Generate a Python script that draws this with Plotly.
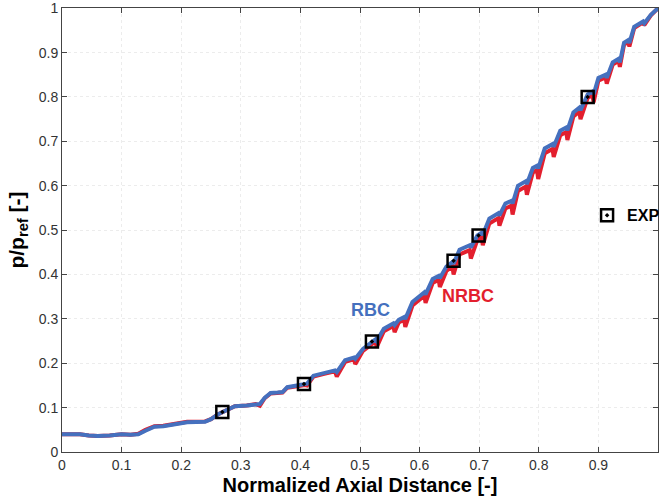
import plotly.graph_objects as go

# ---- data ----
x_axial = [0.000, 0.030, 0.045, 0.060, 0.080, 0.100, 0.115, 0.128, 0.140, 0.155, 0.170, 0.190, 0.210, 0.240,
           0.250, 0.262, 0.275, 0.290, 0.310, 0.325, 0.332, 0.340, 0.350, 0.362, 0.370, 0.378, 0.395, 0.408,
           0.411, 0.422, 0.440, 0.458, 0.461,
           0.475, 0.490, 0.492,
           0.505, 0.526, 0.528,
           0.540, 0.556, 0.558,
           0.565, 0.574, 0.576,
           0.588, 0.608, 0.610,
           0.622, 0.632, 0.634,
           0.645, 0.655, 0.657,
           0.667, 0.684, 0.686,
           0.697, 0.704, 0.706,
           0.717, 0.732, 0.734,
           0.744, 0.754, 0.756,
           0.765, 0.778, 0.780,
           0.790, 0.797, 0.799,
           0.810, 0.823, 0.825,
           0.836, 0.846, 0.848,
           0.858, 0.868, 0.870,
           0.882, 0.890, 0.892,
           0.900, 0.912, 0.914,
           0.924, 0.934, 0.936,
           0.943, 0.950, 0.952,
           0.960, 0.975, 0.977,
           0.988, 1.000]

p_rbc = [0.040, 0.040, 0.037, 0.036, 0.037, 0.040, 0.039, 0.040, 0.048, 0.057, 0.058, 0.062, 0.067, 0.068,
         0.074, 0.085, 0.094, 0.103, 0.105, 0.106, 0.108, 0.122, 0.133, 0.134, 0.135, 0.146, 0.150, 0.153,
         0.154, 0.172, 0.178, 0.184, 0.180,
         0.207, 0.213, 0.210,
         0.232, 0.254, 0.250,
         0.278, 0.290, 0.286,
         0.298, 0.304, 0.300,
         0.338, 0.360, 0.355,
         0.390, 0.397, 0.392,
         0.418, 0.428, 0.424,
         0.456, 0.466, 0.461,
         0.488, 0.494, 0.489,
         0.526, 0.538, 0.533,
         0.560, 0.566, 0.560,
         0.600, 0.610, 0.604,
         0.640, 0.645, 0.639,
         0.684, 0.694, 0.688,
         0.724, 0.731, 0.725,
         0.765, 0.776, 0.770,
         0.806, 0.812, 0.806,
         0.843, 0.850, 0.843,
         0.878, 0.886, 0.878,
         0.922, 0.928, 0.922,
         0.958, 0.970, 0.966,
         0.985, 1.000]

p_nrbc = [0.040, 0.040, 0.037, 0.036, 0.037, 0.040, 0.039, 0.041, 0.050, 0.058, 0.059, 0.063, 0.068, 0.069,
          0.074, 0.085, 0.094, 0.103, 0.105, 0.108, 0.104, 0.121, 0.132, 0.133, 0.134, 0.145, 0.149, 0.151,
          0.150, 0.170, 0.176, 0.182, 0.170,
          0.203, 0.209, 0.198,
          0.228, 0.249, 0.236,
          0.272, 0.284, 0.270,
          0.292, 0.298, 0.282,
          0.330, 0.352, 0.336,
          0.381, 0.388, 0.372,
          0.408, 0.418, 0.400,
          0.445, 0.455, 0.436,
          0.478, 0.484, 0.466,
          0.515, 0.527, 0.510,
          0.549, 0.555, 0.535,
          0.588, 0.598, 0.580,
          0.630, 0.635, 0.615,
          0.673, 0.683, 0.665,
          0.714, 0.721, 0.703,
          0.756, 0.767, 0.750,
          0.798, 0.804, 0.788,
          0.837, 0.844, 0.830,
          0.873, 0.881, 0.868,
          0.918, 0.924, 0.914,
          0.955, 0.968, 0.962,
          0.984, 1.000]

x_exp = [0.269, 0.406, 0.520, 0.657, 0.699, 0.882]
p_exp = [0.090, 0.153, 0.249, 0.431, 0.488, 0.800]

x_ticks = [0, 0.1, 0.2, 0.3, 0.4, 0.5, 0.6, 0.7, 0.8, 0.9, 1]
y_ticks = [0, 0.1, 0.2, 0.3, 0.4, 0.5, 0.6, 0.7, 0.8, 0.9, 1]

RED = "#E31F2E"
BLUE = "#4570BE"
FONT = "Liberation Sans, Arial, sans-serif"

fig = go.Figure()
fig.add_trace(go.Scatter(x=x_axial, y=p_nrbc, mode="lines", name="NRBC",
                         line=dict(color=RED, width=4), showlegend=False))
fig.add_trace(go.Scatter(x=x_axial, y=p_rbc, mode="lines", name="RBC",
                         line=dict(color=BLUE, width=4), showlegend=False))
fig.add_trace(go.Scatter(x=x_exp, y=p_exp, mode="markers", name="<b>EXP</b>",
                         marker=dict(symbol="square-open-dot", size=12, color="black",
                                     line=dict(color="black", width=2.5)),
                         showlegend=True))

fig.add_annotation(x=0.517, y=0.319, text="<b>RBC</b>", showarrow=False,
                   font=dict(family=FONT, size=18, color=BLUE))
fig.add_annotation(x=0.681, y=0.351, text="<b>NRBC</b>", showarrow=False,
                   font=dict(family=FONT, size=18, color=RED))

axis_common = dict(
    showline=True, linecolor="#444444", linewidth=1, mirror="ticks",
    ticks="inside", ticklen=5, tickcolor="#444444",
    showgrid=True, gridcolor="#ececec", griddash="dot", gridwidth=1,
    zeroline=False, automargin=False,
    tickfont=dict(family=FONT, size=14, color="#333333"),
)

fig.update_layout(
    width=659, height=504,
    margin=dict(l=62, r=1, t=8, b=52, autoexpand=False),
    plot_bgcolor="white", paper_bgcolor="white",
    xaxis=dict(range=[0, 1], tickvals=x_ticks, ticktext=[str(v) for v in x_ticks],
               title=dict(text="<b>Normalized Axial Distance [-]</b>", standoff=6,
                          font=dict(family=FONT, size=20, color="black")),
               **axis_common),
    yaxis=dict(range=[0, 1.0005], tickvals=y_ticks, ticktext=[str(v) for v in y_ticks],
               title=dict(text="<b>p/p<sub>ref</sub> [-]</b>", standoff=8,
                          font=dict(family=FONT, size=21, color="black")),
               **axis_common),
    legend=dict(x=0.881, y=0.533, xanchor="left", yanchor="middle", bgcolor="rgba(0,0,0,0)",
                font=dict(family=FONT, size=16, color="black"),
                itemwidth=30),
)

fig.write_html("out.html")
